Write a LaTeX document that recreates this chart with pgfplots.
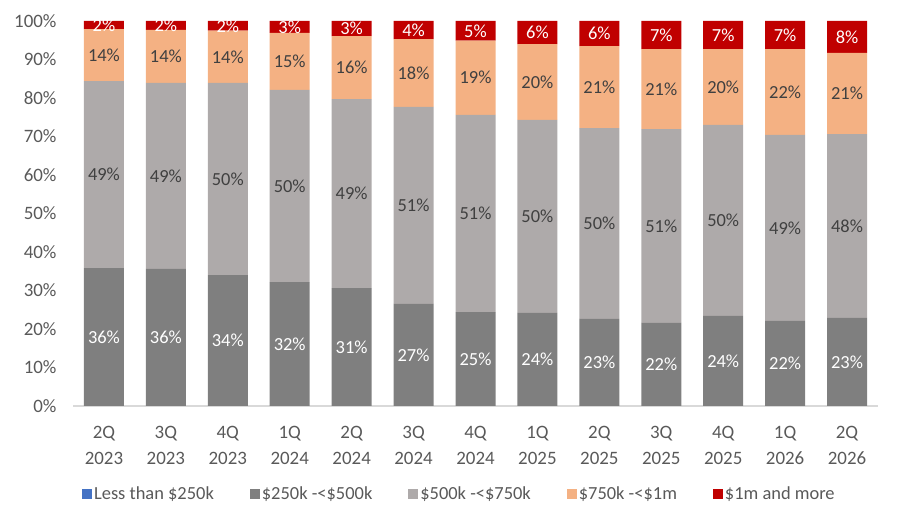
\documentclass[border=0pt]{standalone}
\usepackage{fontspec}
\setmainfont{Carlito}
\usepackage{pgfplots}
\usepackage{pgfplotstable}
\pgfplotsset{compat=1.18}
\definecolor{cblue}{HTML}{4472C4}
\definecolor{cdark}{HTML}{7F7F7F}
\definecolor{clight}{HTML}{AEAAAA}
\definecolor{corange}{HTML}{F4B183}
\definecolor{cred}{HTML}{C00000}
\definecolor{tickgray}{HTML}{595959}
\definecolor{labgray}{HTML}{404040}
\definecolor{axgray}{HTML}{D9D9D9}
\pgfplotstableread{
x lt a b c d la lb lc ld
0 0 35.8 48.6 13.5 2.1 36 49 14 2
1 0 35.6 48.3 13.8 2.3 36 49 14 2
2 0 34.0 49.9 13.6 2.5 34 50 14 2
3 0 32.2 49.9 14.8 3.1 32 50 15 3
4 0 30.6 49.1 16.4 3.9 31 49 16 3
5 0 26.5 51.2 17.6 4.7 27 51 18 4
6 0 24.4 51.2 19.3 5.1 25 51 19 5
7 0 24.2 50.1 19.7 6.0 24 50 20 6
8 0 22.6 49.6 21.3 6.5 23 50 21 6
9 0 21.6 50.3 20.8 7.3 22 51 21 7
10 0 23.4 49.6 19.7 7.3 24 50 20 7
11 0 22.1 48.3 22.3 7.3 22 49 22 7
12 0 22.9 47.7 21.1 8.3 23 48 21 8
}\data
\begin{document}
\begin{tikzpicture}
\useasboundingbox (0,0) rectangle (900bp,525bp);
\begin{axis}[
  at={(73bp,119bp)}, anchor=south west,
  scale only axis, width=805bp, height=385bp,
  ybar stacked, bar width=40bp,
  xmin=-0.5, xmax=12.5, ymin=0, ymax=100,
  axis x line*=bottom, axis y line*=left,
  y axis line style={draw=none},
  x axis line style={draw=axgray, line width=1.2bp},
  major tick length=0pt,
  xtick={0,...,12},
  xticklabels={{2Q\\2023},{3Q\\2023},{4Q\\2023},{1Q\\2024},{2Q\\2024},{3Q\\2024},{4Q\\2024},{1Q\\2025},{2Q\\2025},{3Q\\2025},{4Q\\2025},{1Q\\2026},{2Q\\2026}},
  ytick={0,10,...,100},
  yticklabels={0\%,10\%,20\%,30\%,40\%,50\%,60\%,70\%,80\%,90\%,100\%},
  tick label style={font=\fontsize{19}{26}\selectfont, text=tickgray},
  xticklabel style={align=center, yshift=-17bp},
  yticklabel style={xshift=-13bp},
  legend style={at={(0.48,-0.228)}, anchor=center, legend columns=-1, draw=none,
    font=\fontsize{18.5}{20}\selectfont, text=tickgray,
    /tikz/every even column/.append style={column sep=34bp}},
  legend image code/.code={\fill[#1] (0bp,-5bp) rectangle (10bp,5bp);},
  point meta=explicit symbolic,
  nodes near coords style={font=\fontsize{18.5}{20}\selectfont, anchor=center},
]
\addplot[fill=cblue, draw=none] table[x=x, y=lt, meta=la] {\data};
\addplot[fill=cdark, draw=none, nodes near coords={\pgfplotspointmeta\%}, every node near coord/.append style={text=white}] table[x=x, y=a, meta=la] {\data};
\addplot[fill=clight, draw=none, nodes near coords={\pgfplotspointmeta\%}, every node near coord/.append style={text=labgray}] table[x=x, y=b, meta=lb] {\data};
\addplot[fill=corange, draw=none, nodes near coords={\pgfplotspointmeta\%}, every node near coord/.append style={text=labgray}] table[x=x, y=c, meta=lc] {\data};
\addplot[fill=cred, draw=none, nodes near coords={\pgfplotspointmeta\%}, every node near coord/.append style={text=white}] table[x=x, y=d, meta=ld] {\data};
\legend{Less than \$250k, \$250k -<\$500k, \$500k -<\$750k, \$750k -<\$1m, \$1m and more}
\end{axis}
\end{tikzpicture}
\end{document}
